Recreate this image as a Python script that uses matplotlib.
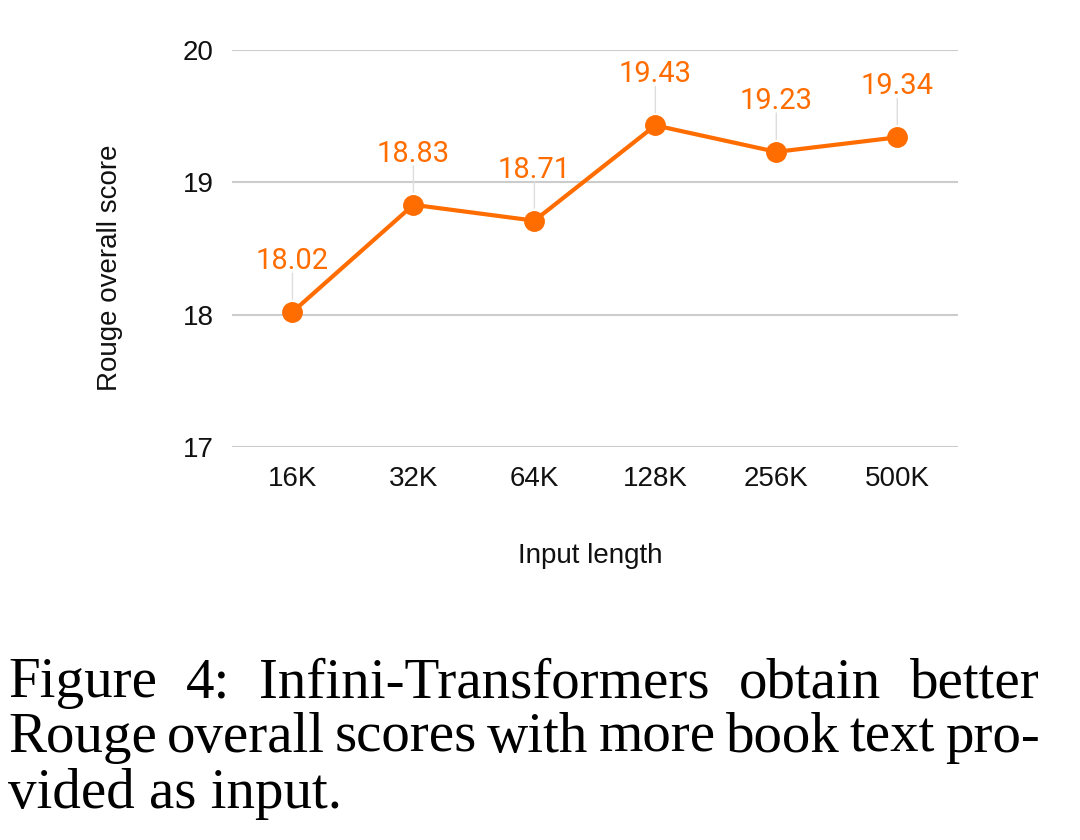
import matplotlib
matplotlib.use("Agg")
import matplotlib.pyplot as plt

lengths = ["16K", "32K", "64K", "128K", "256K", "500K"]
scores = [18.02, 18.83, 18.71, 19.43, 19.23, 19.34]
y_ticks = [17, 18, 19, 20]

caption_lines = [
    "Figure 4:  Infini-Transformers obtain better",
    "Rouge overall scores with more book text pro-",
    "vided as input.",
]

orange = "#ff6d01"

plt.rcParams["font.family"] = ["Liberation Sans", "DejaVu Sans"]

fig = plt.figure(figsize=(10.8, 8.4), dpi=100)
ax = fig.add_axes([0.2148, 0.4679, 0.672, 0.4726])

x = list(range(len(lengths)))
ax.plot(x, scores, color=orange, linewidth=3, marker="o",
        markersize=14, zorder=3)

for xi, yi in zip(x, scores):
    ax.annotate("", xy=(xi, yi), xytext=(0, 28), textcoords="offset points",
                arrowprops=dict(arrowstyle="-", color="#dddddd", lw=1,
                                shrinkA=0, shrinkB=9))
    ax.annotate(f"{yi:.2f}", xy=(xi, yi), xytext=(0, 31),
                textcoords="offset points", ha="center", va="baseline",
                color=orange, fontsize=21, family=["Roboto", "DejaVu Sans"])

ax.set_xlim(-0.5, len(lengths) - 0.5)
ax.set_ylim(17, 20)
ax.set_yticks(y_ticks)
ax.set_xticks(x)
ax.set_xticklabels(lengths)
ax.tick_params(length=0, labelsize=20, colors="#111111")
ax.tick_params(axis="x", pad=14)
ax.tick_params(axis="y", pad=13)
ax.grid(axis="y", color="#cccccc", linewidth=1.5)
ax.set_axisbelow(True)
for s in ax.spines.values():
    s.set_visible(False)

ax.set_xlabel("Input length", fontsize=20, color="#111111")
ax.set_ylabel("Rouge overall score", fontsize=20, color="#111111")
ax.xaxis.set_label_coords(0.493, -0.242)
ax.yaxis.set_label_coords(-0.15, 0.452)

# caption, justified word by word
cap_font = dict(family=["Liberation Serif", "DejaVu Serif"], fontsize=41)
left, right = 8, 1040
baselines = [697, 752, 808]
fig.canvas.draw()
r = fig.canvas.get_renderer()
for i, (line, base) in enumerate(zip(caption_lines, baselines)):
    yy = 1 - base / 840
    words = line.split()
    if i == len(caption_lines) - 1:
        fig.text(left / 1080, yy, line, va="baseline", ha="left", **cap_font)
        continue
    arts = [fig.text(0, yy, w, va="baseline", ha="left", **cap_font) for w in words]
    widths = [a.get_window_extent(r).width for a in arts]
    gap = (right - left - sum(widths)) / (len(words) - 1)
    pos = left
    for a, w in zip(arts, widths):
        a.set_x(pos / 1080)
        pos += w + gap

fig.savefig("out.png", dpi=100, facecolor="white")
